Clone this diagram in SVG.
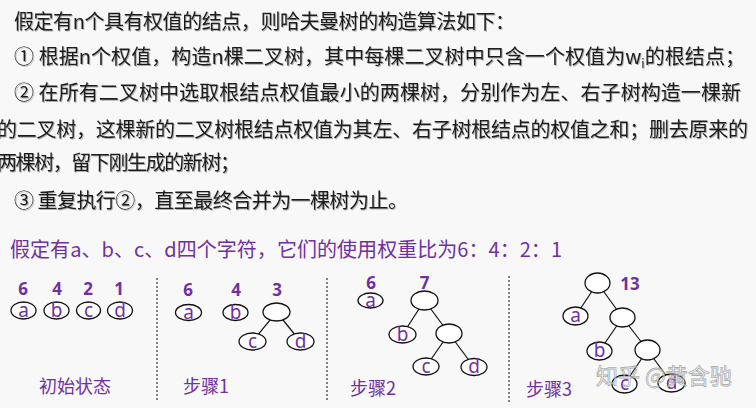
<svg xmlns="http://www.w3.org/2000/svg" width="756" height="408" viewBox="0 0 756 408">
<defs>
<filter id="sh" x="-5%" y="-20%" width="110%" height="150%">
<feDropShadow dx="1" dy="1" stdDeviation="0.6" flood-color="#555" flood-opacity="0.45"/>
</filter>
</defs>
<style>
.main{font-family:"Noto Sans CJK SC","Microsoft YaHei",sans-serif;font-size:20px;fill:#1c1c1c;filter:url(#sh)}
.pur{font-family:"Noto Sans CJK SC",sans-serif;fill:#7030a0}
.num{font-family:"Noto Sans","Noto Sans CJK SC",sans-serif;font-size:17px;font-weight:bold;fill:#7030a0;text-anchor:middle}
.lt{font-family:"Noto Sans","Noto Sans CJK SC",sans-serif;font-size:19px;fill:#7030a0;text-anchor:middle}
.lbl{font-family:"Noto Sans CJK SC",sans-serif;font-size:18px;fill:#7030a0}
.nd{fill:#fff;stroke:#111;stroke-width:1.3}
.ed{stroke:#111;stroke-width:1.2;fill:none}
.sep{stroke:#333;stroke-width:1.2;stroke-dasharray:2 2}
.wm{font-family:"Noto Sans CJK SC",sans-serif;font-size:22px;fill:#fff;fill-opacity:0.55;stroke:#999;stroke-width:0.8;stroke-opacity:0.8}
</style>
<rect width="756" height="408" fill="#f8f8f8"/>
<g id="description">
<text class="main" x="14" y="29" textLength="501" lengthAdjust="spacing">假定有n个具有权值的结点，则哈夫曼树的构造算法如下：</text>
<text class="main" x="14" y="64" textLength="731" lengthAdjust="spacing">① 根据n个权值，构造n棵二叉树，其中每棵二叉树中只含一个权值为w<tspan font-size="12" dy="4">i</tspan><tspan dy="-4">的根结点；</tspan></text>
<text class="main" x="14" y="100" textLength="727" lengthAdjust="spacing">② 在所有二叉树中选取根结点权值最小的两棵树，分别作为左、右子树构造一棵新</text>
<text class="main" x="-3" y="137" textLength="751" lengthAdjust="spacing">的二叉树，这棵新的二叉树根结点权值为其左、右子树根结点的权值之和；删去原来的</text>
<text class="main" x="-3" y="170" textLength="243" lengthAdjust="spacing">两棵树，留下刚生成的新树；</text>
<text class="main" x="14" y="208" textLength="394" lengthAdjust="spacing">③ 重复执行②，直至最终合并为一棵树为止。</text>
<text class="pur" x="10" y="257" font-size="20" textLength="552" lengthAdjust="spacing">假定有a、b、c、d四个字符，它们的使用权重比为6：4：2：1</text>
</g>
<g id="separators">
<line class="sep" x1="157" y1="278" x2="157" y2="402"/>
<line class="sep" x1="327" y1="278" x2="327" y2="402"/>
<line class="sep" x1="509" y1="276" x2="509" y2="402"/>
</g>
<g id="connectors">
<line class="ed" x1="276.5" y1="312" x2="252.5" y2="341.5"/>
<line class="ed" x1="276.5" y1="312" x2="300.5" y2="341.5"/>
<line class="ed" x1="424.5" y1="300.5" x2="402.5" y2="334.5"/>
<line class="ed" x1="424.5" y1="300.5" x2="449" y2="333.5"/>
<line class="ed" x1="449" y1="333.5" x2="426" y2="366.5"/>
<line class="ed" x1="449" y1="333.5" x2="474" y2="367"/>
<line class="ed" x1="597.5" y1="283" x2="575.5" y2="316"/>
<line class="ed" x1="597.5" y1="283" x2="622.5" y2="317.5"/>
<line class="ed" x1="622.5" y1="317.5" x2="599.5" y2="351"/>
<line class="ed" x1="622.5" y1="317.5" x2="647.5" y2="350"/>
<line class="ed" x1="647.5" y1="350" x2="624.5" y2="384"/>
<line class="ed" x1="647.5" y1="350" x2="671.5" y2="383"/>
</g>
<g id="initial">
<text class="num" x="23" y="295">6</text>
<text class="num" x="57" y="295">4</text>
<text class="num" x="88" y="295">2</text>
<text class="num" x="119" y="295">1</text>
<g id="s0-a"><ellipse class="nd" cx="23.5" cy="310.5" rx="12.5" ry="8.5"/><text class="lt" x="23.5" y="316.5">a</text></g>
<g id="s0-b"><ellipse class="nd" cx="56.5" cy="310.5" rx="12.5" ry="8.5"/><text class="lt" x="56.5" y="316.5">b</text></g>
<g id="s0-c"><ellipse class="nd" cx="88.5" cy="310.5" rx="12" ry="8.5"/><text class="lt" x="88.5" y="316.5">c</text></g>
<g id="s0-d"><ellipse class="nd" cx="120" cy="310.5" rx="12.5" ry="8.5"/><text class="lt" x="120" y="316.5">d</text></g>
<text class="lbl" x="39" y="393">初始状态</text>
</g>
<g id="step1">
<text class="num" x="188" y="296">6</text>
<text class="num" x="236" y="296">4</text>
<text class="num" x="277" y="296">3</text>
<g id="s1-a"><ellipse class="nd" cx="188.5" cy="312.5" rx="13" ry="8"/><text class="lt" x="188.5" y="318.5">a</text></g>
<g id="s1-b"><ellipse class="nd" cx="235.5" cy="312.5" rx="12.5" ry="8"/><text class="lt" x="235.5" y="318.5">b</text></g>
<g id="s1-r"><ellipse class="nd" cx="276.5" cy="312" rx="13.5" ry="9"/></g>
<g id="s1-c"><ellipse class="nd" cx="252.5" cy="341.5" rx="13.5" ry="8.5"/><text class="lt" x="252.5" y="347.5">c</text></g>
<g id="s1-d"><ellipse class="nd" cx="300.5" cy="341.5" rx="13.5" ry="8.5"/><text class="lt" x="300.5" y="347.5">d</text></g>
<text class="lbl" x="183" y="393">步骤1</text>
</g>
<g id="step2">
<text class="num" x="371" y="289">6</text>
<text class="num" x="424.5" y="289">7</text>
<g id="s2-a"><ellipse class="nd" cx="370.5" cy="300.5" rx="12.5" ry="7.5"/><text class="lt" x="370.5" y="306.5">a</text></g>
<g id="s2-r"><ellipse class="nd" cx="424.5" cy="300.5" rx="13.5" ry="9.5"/></g>
<g id="s2-b"><ellipse class="nd" cx="402.5" cy="334.5" rx="13.5" ry="8.5"/><text class="lt" x="402.5" y="340.5">b</text></g>
<g id="s2-i"><ellipse class="nd" cx="449" cy="333.5" rx="13" ry="9.5"/></g>
<g id="s2-c"><ellipse class="nd" cx="426" cy="366.5" rx="13" ry="8.5"/><text class="lt" x="426" y="372.5">c</text></g>
<g id="s2-d"><ellipse class="nd" cx="474" cy="367" rx="13" ry="8.5"/><text class="lt" x="474" y="373">d</text></g>
<text class="lbl" x="350" y="395">步骤2</text>
</g>
<g id="step3">
<text class="num" x="630" y="290">13</text>
<g id="s3-r"><ellipse class="nd" cx="597.5" cy="283" rx="12.5" ry="10"/></g>
<g id="s3-a"><ellipse class="nd" cx="575.5" cy="316" rx="12.5" ry="9"/><text class="lt" x="575.5" y="322">a</text></g>
<g id="s3-i1"><ellipse class="nd" cx="622.5" cy="317.5" rx="12.5" ry="9.5"/></g>
<g id="s3-b"><ellipse class="nd" cx="599.5" cy="351" rx="12.5" ry="9"/><text class="lt" x="599.5" y="357">b</text></g>
<g id="s3-i2"><ellipse class="nd" cx="647.5" cy="350" rx="12.5" ry="10"/></g>
<g id="s3-c"><ellipse class="nd" cx="624.5" cy="384" rx="12.5" ry="9"/><text class="lt" x="624.5" y="390">c</text></g>
<g id="s3-d"><ellipse class="nd" cx="671.5" cy="383" rx="13.5" ry="9"/><text class="lt" x="671.5" y="389">d</text></g>
<text class="lbl" x="526" y="396">步骤3</text>
</g>
<text class="wm" x="596" y="384">知乎 @黄含驰</text>
</svg>
